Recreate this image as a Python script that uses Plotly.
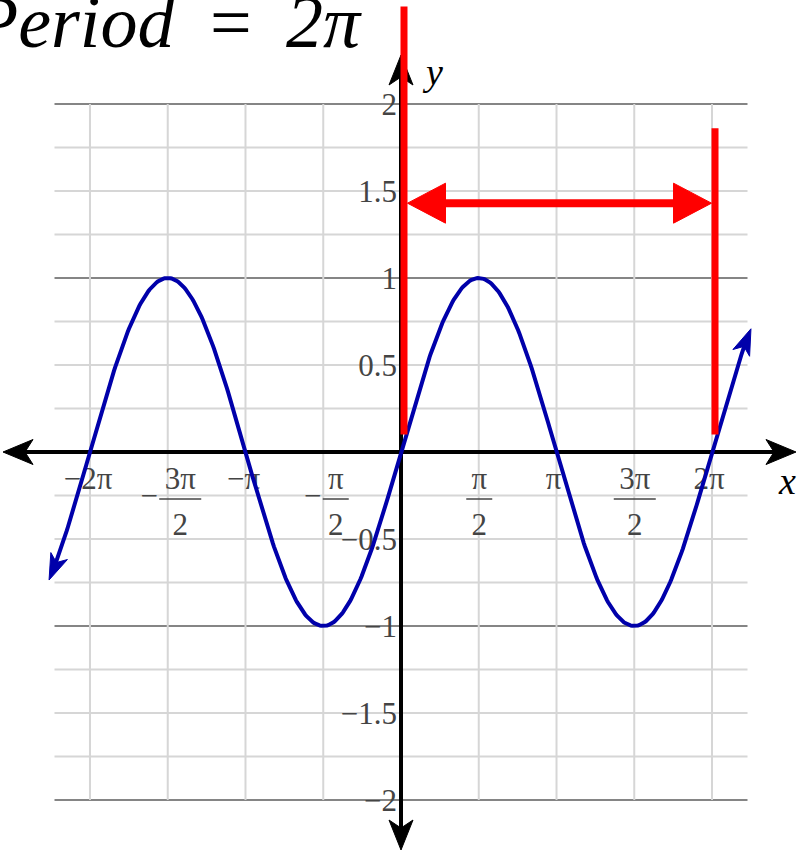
import numpy as np
import plotly.graph_objects as go

# ---------------- chart values ----------------
title_text = "Period \u2006=\u2006 2π"

# y = sin x, drawn between these x limits (arrow tips at both ends)
curve_start = -7.11
curve_end = 7.07

# x tick positions and their labels
x_tick_values = [-2 * np.pi, -1.5 * np.pi, -np.pi, -0.5 * np.pi,
                 0.5 * np.pi, np.pi, 1.5 * np.pi, 2 * np.pi]
x_tick_labels = ["−2π", "−3π/2", "−π", "−π/2", "π/2", "π", "3π/2", "2π"]

# y tick positions and their labels
y_tick_values = [-2, -1.5, -1, -0.5, 0.5, 1, 1.5, 2]
y_tick_labels = ["−2", "−1.5", "−1", "−0.5", "0.5", "1", "1.5", "2"]

# period marker: two bars at the start and end of one period, joined by a double arrow
period_start = 0.0
period_end = 2 * np.pi
period_arrow_level = 1.43
start_bar_top = 2.56
end_bar_top = 1.86
bar_bottom = 0.10

# grid extent
grid_x_limit = 7.0
grid_y_limit = 2.0
grid_y_step = 0.25
grid_x_step = np.pi / 2

# ---------------- canvas geometry ----------------
W, H = 798, 855
ORIGIN_PX = (401, 452)          # where (0, 0) sits on the canvas
X_PX = 49.5                     # pixels per x unit
Y_PX = 174.0                    # pixels per y unit
X_RANGE = [-ORIGIN_PX[0] / X_PX, (W - ORIGIN_PX[0]) / X_PX]
Y_RANGE = [-(H - ORIGIN_PX[1]) / Y_PX, ORIGIN_PX[1] / Y_PX]


def dx(px):
    """pixel offset (to the right) -> x data units"""
    return px / X_PX


def dy(px):
    """pixel offset (downward) -> y data units"""
    return -px / Y_PX


SERIF = "Liberation Serif, Times New Roman, serif"
LABEL_COLOR = "#444444"
BLUE = "#0000aa"
RED = "#ff0000"

fig = go.Figure()


def segment(x0, y0, x1, y1, color, width):
    fig.add_trace(go.Scatter(x=[x0, x1], y=[y0, y1], mode="lines",
                             line=dict(color=color, width=width),
                             hoverinfo="skip"))


def arrow_head(tip_x, tip_y, angle, length, width, notch, color):
    """Filled arrow head whose tip is at (tip_x, tip_y) pointing along
    `angle` (radians, screen space: x right, y down)."""
    local = [(0, 0), (-length, width / 2), (-length + notch, 0),
             (-length, -width / 2), (0, 0)]
    c, s = np.cos(angle), np.sin(angle)
    xs, ys = [], []
    for lx, ly in local:
        px = lx * c - ly * s
        py = lx * s + ly * c
        xs.append(tip_x + dx(px))
        ys.append(tip_y + dy(py))
    fig.add_trace(go.Scatter(x=xs, y=ys, mode="lines", fill="toself",
                             fillcolor=color, line=dict(color=color, width=1),
                             hoverinfo="skip"))


def text_trace(xs, ys, texts, size, position="middle center",
               color=LABEL_COLOR):
    fig.add_trace(go.Scatter(x=xs, y=ys, text=texts, mode="text",
                             textposition=position,
                             textfont=dict(family=SERIF, size=size, color=color),
                             hoverinfo="skip"))


# ---------------- grid ----------------
n_h = int(round(2 * grid_y_limit / grid_y_step))
for i in range(n_h + 1):
    yv = -grid_y_limit + i * grid_y_step
    major = abs(yv - round(yv)) < 1e-9
    fig.add_shape(type="line", x0=-grid_x_limit, x1=grid_x_limit, y0=yv, y1=yv,
                  line=dict(color="#858585" if major else "#d6d6d6", width=2),
                  layer="below")
for k in range(-4, 5):
    xv = k * grid_x_step
    fig.add_shape(type="line", x0=xv, x1=xv, y0=-grid_y_limit, y1=grid_y_limit,
                  line=dict(color="#d6d6d6", width=2), layer="below")

# ---------------- tick labels ----------------
label_size = 31
row_main = dy(29)     # whole labels / numerators
row_bar = dy(47)      # fraction bar & leading minus
row_den = dy(75)      # denominators
for xv, lab in zip(x_tick_values, x_tick_labels):
    if "/" not in lab:
        shift = -3 if xv > 0 else -2
        text_trace([xv + dx(shift)], [row_main], [lab], label_size)
        continue
    neg = lab.startswith("−")
    num, den = lab.lstrip("−").split("/")
    centre = xv + (dx(12.5) if neg else dx(0.5))
    half = dx(21) if len(num) > 1 else dx(13)
    text_trace([centre], [row_main], [num], label_size)
    text_trace([centre], [row_den], [den], label_size)
    segment(centre - half, row_bar, centre + half, row_bar, LABEL_COLOR, 1.5)
    if neg:
        minus_x = centre - half - dx(10)
        text_trace([minus_x], [row_bar + dy(-1)], ["−"], label_size)

text_trace([dx(-4)] * len(y_tick_values),
           [v + dy(3) for v in y_tick_values],
           y_tick_labels, label_size, position="middle left")

# ---------------- axes ----------------
ax_left, ax_right = dx(3 - ORIGIN_PX[0]), dx(796 - ORIGIN_PX[0])
ay_top, ay_bottom = dy(55 - ORIGIN_PX[1]), dy(850 - ORIGIN_PX[1])
segment(ax_left + dx(20), 0, ax_right - dx(20), 0, "black", 4)
segment(0, ay_bottom - dy(20), 0, ay_top + dy(20), "black", 4)
arrow_head(ax_right, 0, 0.0, 30, 25, 8, "black")
arrow_head(ax_left, 0, np.pi, 30, 25, 8, "black")
arrow_head(0, ay_top, -np.pi / 2, 30, 24, 8, "black")
arrow_head(0, ay_bottom, np.pi / 2, 30, 24, 8, "black")

# ---------------- sine curve ----------------
HEAD_L, HEAD_W, HEAD_N = 26, 18, 7


def screen_speed(x):
    return np.hypot(X_PX, Y_PX * np.cos(x))


back_off = HEAD_L - HEAD_N - 3
xs = np.linspace(curve_start + back_off / screen_speed(curve_start),
                 curve_end - back_off / screen_speed(curve_end), 600)
fig.add_trace(go.Scatter(x=xs, y=np.sin(xs), mode="lines",
                         line=dict(color=BLUE, width=4), hoverinfo="skip"))
ang_end = np.arctan2(-Y_PX * np.cos(curve_end), X_PX)
ang_start = np.arctan2(Y_PX * np.cos(curve_start), -X_PX)
arrow_head(curve_end, np.sin(curve_end), ang_end, HEAD_L, HEAD_W, HEAD_N, BLUE)
arrow_head(curve_start, np.sin(curve_start), ang_start, HEAD_L, HEAD_W, HEAD_N, BLUE)

# ---------------- period marker ----------------
bar_shift = dx(3)
left_bar = period_start + bar_shift
right_bar = period_end + bar_shift
segment(left_bar, bar_bottom, left_bar, start_bar_top, RED, 7)
segment(right_bar, bar_bottom, right_bar, end_bar_top, RED, 7)
inner_l = left_bar + dx(3.5)
inner_r = right_bar - dx(3.5)
segment(inner_l + dx(30), period_arrow_level, inner_r - dx(30),
        period_arrow_level, RED, 8)
arrow_head(inner_r, period_arrow_level, 0.0, 38, 40, 0, RED)
arrow_head(inner_l, period_arrow_level, np.pi, 38, 40, 0, RED)

# ---------------- axis names & title ----------------
fig.add_annotation(x=dx(787 - ORIGIN_PX[0]), y=dy(481 - ORIGIN_PX[1]),
                   text="<i>x</i>", showarrow=False,
                   font=dict(family=SERIF, size=38, color="black"))
fig.add_annotation(x=dx(432 - ORIGIN_PX[0]), y=dy(72 - ORIGIN_PX[1]),
                   text="<i>y</i>", showarrow=False,
                   font=dict(family=SERIF, size=38, color="black"))
fig.add_annotation(xref="paper", yref="paper", x=364 / W, y=1 - 22 / H,
                   xanchor="right", yanchor="middle",
                   text="<i>" + title_text + "</i>",
                   showarrow=False,
                   font=dict(family=SERIF, size=74, color="black"))

fig.update_layout(
    width=W, height=H, autosize=False,
    margin=dict(l=0, r=0, t=0, b=0, pad=0),
    paper_bgcolor="white", plot_bgcolor="white",
    showlegend=False,
    xaxis=dict(range=X_RANGE, visible=False, fixedrange=True),
    yaxis=dict(range=Y_RANGE, visible=False, fixedrange=True),
)

fig.write_html("out.html")
